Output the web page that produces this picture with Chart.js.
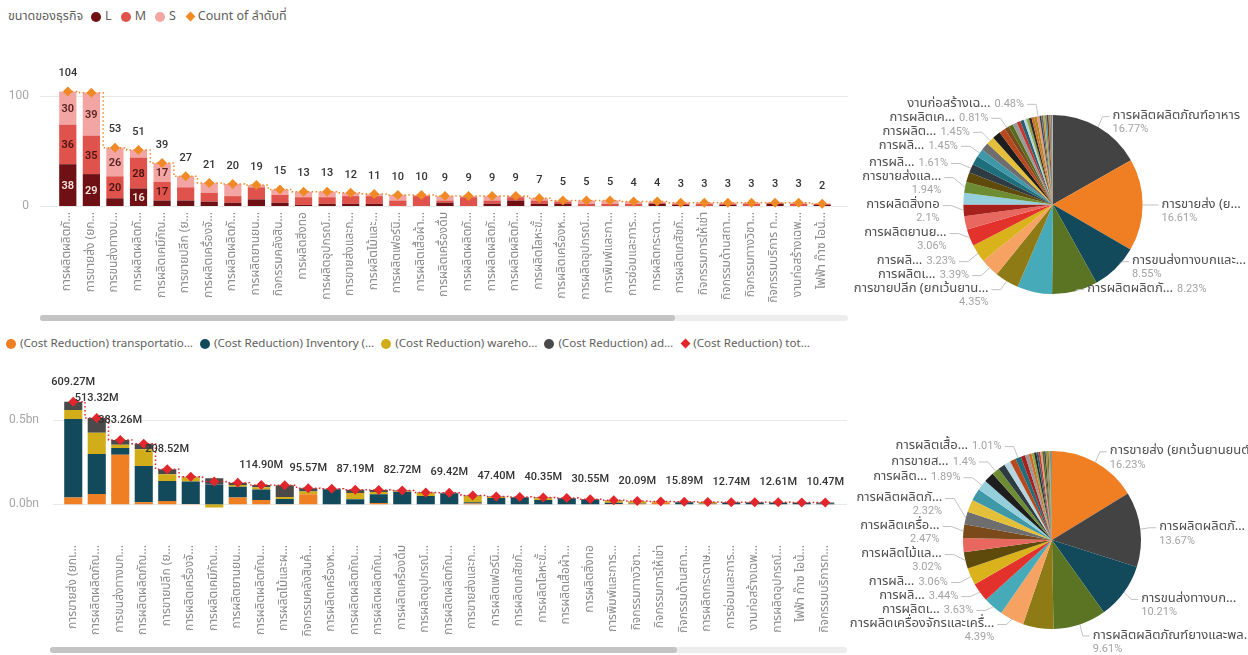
<!DOCTYPE html>
<html lang="th">
<head>
<meta charset="utf-8">
<title>ขนาดของธุรกิจ / Cost Reduction</title>
<script src="https://cdn.jsdelivr.net/npm/chart.js@4.4.1/dist/chart.umd.min.js"></script>
<style>
  html, body { margin: 0; padding: 0; background: #fff; }
  body { width: 1248px; height: 655px; position: relative; overflow: hidden;
         font-family: 'Segoe UI', 'Noto Sans Thai', Tahoma, Loma, Garuda, 'Open Sans', sans-serif; }
  canvas, .legend, .scroll { position: absolute; }
  .legend { display: flex; align-items: center; font-size: 12.5px; color: #605e5c; white-space: nowrap; }
  .legend .ttl { margin-right: 8px; }
  .legend .item { display: flex; align-items: center; margin-right: 9px; }
  .legend .dot { width: 10px; height: 10px; border-radius: 50%; margin-right: 4px; }
  .legend .dia { width: 7px; height: 7px; transform: rotate(45deg); margin: 0 4px 0 2px; }
  #costLegend { font-size: 11.6px; }
  #costLegend .item { margin-right: 7px; }
  .scroll { height: 6px; border-radius: 3px; background: #ededed; }
  .scroll div { height: 100%; border-radius: 3px; background: #c4c4c4; }
</style>
</head>
<body>
<div class="legend" id="sizeLegend" style="left:8px; top:7px"><span class="ttl">ขนาดของธุรกิจ</span></div>
<canvas id="sizeBar" width="850" height="290" style="left:0; top:40px"></canvas>
<div class="scroll" style="left:40px; top:315px; width:808px"><div style="width:635px"></div></div>
<canvas id="sizePie" width="410" height="290" style="left:838px; top:40px"></canvas>

<div class="legend" id="costLegend" style="left:6px; top:335px"></div>
<canvas id="costBar" width="850" height="295" style="left:0; top:360px"></canvas>
<div class="scroll" style="left:50px; top:647px; width:797px"><div style="width:627px"></div></div>
<canvas id="costPie" width="410" height="295" style="left:838px; top:360px"></canvas>

<script>
// ---- count of firms by industry, split by business size ----
const sizeCats = [
  "การผลิตผลิตภั…", "การขายส่ง (ยก…", "การขนส่งทางบ…", "การผลิตผลิตภั…", "การผลิตเคมีภัณ…",
  "การขายปลีก (ย…", "การผลิตเครื่องจั…", "การผลิตผลิตภั…", "การผลิตยานยน…", "กิจกรรมคลังสิน…",
  "การผลิตสิ่งทอ", "การผลิตอุปกรณ์…", "การขายส่งและก…", "การผลิตไม้และ…", "การผลิตเฟอร์นิ…",
  "การผลิตเสื้อผ้า…", "การผลิตเครื่องดื่ม", "การผลิตผลิตภั…", "การผลิตผลิตภั…", "การผลิตผลิตภั…",
  "การผลิตโลหะขั้…", "การผลิตเครื่องห…", "การผลิตอุปกรณ์…", "การพิมพ์และกา…", "การซ่อมและการ…",
  "การผลิตกระดา…", "การผลิตเภสัชภั…", "กิจกรรมการให้เช่า", "กิจกรรมด้านสถา…", "กิจกรรมทางวิชา…",
  "กิจกรรมบริการ ท…", "งานก่อสร้างเฉพ…", "ไฟฟ้า ก๊าซ ไอน้…"
];
const sizeL = [38, 29, 7, 16, 5, 5, 4, 3, 6, 3, 1, 2, 2, 2, 0, 0, 3, 0, 2, 5, 2, 2, 0, 0, 0, 2, 1, 0, 1, 0, 2, 0, 1];
const sizeM = [36, 35, 20, 28, 17, 12, 8, 6, 11, 7, 7, 6, 7, 7, 5, 9, 2, 8, 3, 3, 3, 2, 2, 2, 2, 1, 1, 2, 1, 2, 1, 2, 1];
const sizeS = [30, 39, 26, 7, 17, 10, 9, 11, 2, 5, 5, 5, 3, 2, 5, 1, 4, 1, 4, 1, 2, 1, 3, 3, 2, 1, 1, 1, 1, 1, 0, 1, 0];
const sizeCount = [104, 103, 53, 51, 39, 27, 21, 20, 19, 15, 13, 13, 12, 11, 10, 10, 9, 9, 9, 9, 7, 5, 5, 5, 4, 4, 3, 3, 3, 3, 3, 3, 2];
const sizeOther = [2, 2, 2, 2, 1, 1, 1, 1, 1];   // industries past the scroll window
const sizeTicks = [0, 100];

// ---- cost reduction by industry (million baht) ----
const costCats = [
  "การขายส่ง (ยกเ…", "การผลิตผลิตภัณ…", "การขนส่งทางบก…", "การผลิตผลิตภัณ…", "การขายปลีก (ย…",
  "การผลิตเครื่องจั…", "การผลิตเคมีภัณ…", "การผลิตยานยน…", "การผลิตผลิตภัณ…", "การผลิตไม้และผ…",
  "กิจกรรมคลังสินค้…", "การผลิตเครื่องห…", "การผลิตผลิตภัณ…", "การผลิตผลิตภัณ…", "การผลิตเครื่องดื่ม",
  "การผลิตอุปกรณ์…", "การผลิตผลิตภัณ…", "การขายส่งและก…", "การผลิตเฟอร์นิ…", "การผลิตเภสัชภั…",
  "การผลิตโลหะขั้…", "การผลิตเสื้อผ้า…", "การผลิตสิ่งทอ", "การพิมพ์และการ…", "กิจกรรมทางวิชา…",
  "กิจกรรมการให้เช่า", "กิจกรรมด้านสถา…", "การผลิตกระดาษ…", "การซ่อมและการ…", "งานก่อสร้างเฉพ…",
  "การผลิตอุปกรณ์…", "ไฟฟ้า ก๊าซ ไอน้…", "กิจกรรมบริการท…"
];
// position of each cost category in sizeCats (keeps pie colours per industry)
const costCatIndex = [1, 0, 2, 3, 5, 6, 4, 8, 7, 13, 9, 21, 17, 18, 16, 11, 19, 12, 14, 26, 20, 15, 10, 23, 29, 27, 28, 25, 24, 31, 22, 32, 30];
const costTransport = [40, 62, 295, 12, 20, 2, 0, 40, 26, 2, 60, 0, 1, 8, 0, 0, 0, 5, 0, 0, 0, 0, 0, 2, 4, 10, 0, 3, 0, 0, 0, 0, 1];
const costInventory = [468, 237, 40, 216, 119, 134, 118, 65, 63, 30, 0, 90, 30, 52, 75, 50, 66, 8, 38, 40, 26, 33, 26, 8, 2, 0, 12, 3, 10, 10, 9, 8, 6];
const costWarehouse = [53, 126, 20, 100, 40, 24, -19, 10, 12, 12, 16, 0, 36, 14, 4, 17, 0, 37, 6, 0, 10, 0, 0, 12, 12, 5, 2, 8, 0, 0, 2, 0, 1.47];
const costAdmin = [48.27, 88.32, 28.26, 32.8, 29.52, 4.8, 37.3, 14.1, 13.9, 69.4, 19.57, 2.7, 20.19, 11, 3.72, 4, 3.42, 2.6, 3.4, 4, 4.35, 4.9, 4.55, 3, 2.09, 2, 1.89, 0, 2.74, 2.7, 1.61, 3, 2];
const costTotal = [609.27, 513.32, 383.26, 360.8, 208.52, 164.8, 136.3, 129.1, 114.9, 113.4, 95.57, 92.7, 87.19, 85, 82.72, 71, 69.42, 52.6, 47.4, 44, 40.35, 37.9, 30.55, 25, 20.09, 17, 15.89, 14, 12.74, 12.7, 12.61, 11, 10.47];
const costOther = [9.8, 8.2, 6.1, 4.9, 3.43];
const costTicks = [0, 500];

// pie label texts (slice index -> shown name)
const sizePieIdx = [0, 1, 2, 3, 5, 6, 7, 8, 10, 12, 14, 16, 18, 21, 31];
const sizePieText = ["การผลิตผลิตภัณฑ์อาหาร", "การขายส่ง (ย…", "การขนส่งทางบกและ…", "การผลิตผลิตภั…", "การขายปลีก (ยกเว้นยาน…",
  "การผลิตเ…", "การผลิ…", "การผลิตยานย…", "การผลิตสิ่งทอ", "การขายส่งแล…", "การผลิ…", "การผลิ…", "การผลิต…", "การผลิตเค…", "งานก่อสร้างเฉ…"];
const costPieIdx = [0, 1, 2, 3, 5, 6, 7, 8, 9, 11, 12, 15, 17, 21];
const costPieText = ["การขายส่ง (ยกเว้นยานยนต์แ…", "การผลิตผลิตภั…", "การขนส่งทางบก…", "การผลิตผลิตภัณฑ์ยางและพล…",
  "การผลิตเครื่องจักรและเครื่…", "การผลิตเ…", "การผลิ…", "การผลิ…", "การผลิตไม้แล…", "การผลิตเครื่อ…", "การผลิตผลิตภั…",
  "การผลิต…", "การขายส…", "การผลิตเสื้อ…"];

const sliceColors = ["#434343", "#F07E22", "#124A5C", "#5B7423", "#47AAB9", "#8F7B15", "#F5A262", "#D9B21C",
  "#E2322B", "#E8675E", "#A6211C", "#95CFDB", "#6E8D32", "#5E4B0B", "#2E3B42", "#1F6E7C", "#3E98A8",
  "#6E6E6E", "#E4C03A", "#1E1E1E", "#B9481E", "#7A4A1A", "#566D20", "#9A9A9A", "#C4362E", "#2B5F6E",
  "#B5D6DF", "#8FA84A", "#2B2B2B", "#D36B2A", "#A58C1E", "#E89A80", "#3A4A52"];
const otherColors = ["#6B6B6B", "#C9A227", "#4E9AA8", "#8B2E24", "#7A8F3A", "#555555", "#D97B3A", "#2F6C7A", "#B0B0B0"];

const THAI = "'Segoe UI', 'Noto Sans Thai', Tahoma, Loma, Garuda, 'Open Sans', sans-serif";
const NUM = "Roboto, 'Open Sans', sans-serif";

Chart.defaults.font.family = THAI;
Chart.defaults.animation = false;
Chart.defaults.events = [];
Chart.defaults.plugins.legend.display = false;
Chart.defaults.plugins.tooltip.enabled = false;

// horizontal gridlines that run past the plot edges
function axisGrid(from, to) {
  return {
    id: 'axisGrid',
    beforeDatasetsDraw(chart) {
      const y = chart.scales.y, ctx = chart.ctx;
      ctx.save();
      ctx.strokeStyle = '#e8e8e8';
      ctx.lineWidth = 1;
      y.ticks.forEach(t => {
        const py = Math.round(y.getPixelForValue(t.value)) + 0.5;
        ctx.beginPath(); ctx.moveTo(from, py); ctx.lineTo(to, py); ctx.stroke();
      });
      ctx.restore();
    }
  };
}

// value labels: above line points, and inside bar segments tall enough
function valueLabels(cfg) {
  return {
    id: 'valueLabels',
    afterDatasetsDraw(chart) {
      const ctx = chart.ctx;
      ctx.save();
      ctx.textAlign = 'center';
      ctx.textBaseline = 'middle';
      chart.data.datasets.forEach((ds, di) => {
        const meta = chart.getDatasetMeta(di);
        if (ds.type === 'line') {
          ctx.font = '500 11px ' + NUM;
          ctx.fillStyle = '#333';
          meta.data.forEach((pt, i) => {
            if (cfg.show && !cfg.show.includes(i)) return;
            if (cfg.hide && cfg.hide.includes(i)) return;
            ctx.fillText(cfg.format(ds.data[i]), pt.x, pt.y - cfg.lift);
          });
        } else if (cfg.segmentText) {
          ctx.font = '600 11px ' + NUM;
          ctx.fillStyle = cfg.segmentText[di];
          meta.data.forEach((bar, i) => {
            if (Math.abs(bar.base - bar.y) < 15) return;
            ctx.fillText(String(ds.data[i]), bar.x, (bar.y + bar.base) / 2 + 1);
          });
        }
      });
      ctx.restore();
    }
  };
}

const fmtPct = v => parseFloat(v.toFixed(2)) + '%';

// outside pie labels with leader lines, stacked per side
function pieLabels(cfg) {
  return {
    id: 'pieLabels',
    afterDatasetsDraw(chart) {
      const ctx = chart.ctx;
      const values = chart.data.datasets[0].data;
      const total = values.reduce((a, b) => a + b, 0);
      const arcs = chart.getDatasetMeta(0).data;
      const items = cfg.idx.map((i, k) => {
        const p = arcs[i].getProps(['x', 'y', 'startAngle', 'endAngle', 'outerRadius']);
        const a = (p.startAngle + p.endAngle) / 2;
        const c = Math.cos(a), s = Math.sin(a);
        const reach = c >= 0 ? 9 : 12;
        return {
          name: cfg.text[k], pct: fmtPct(values[i] / total * 100), two: cfg.stacked.includes(i),
          right: c >= 0,
          ax: p.x + c * p.outerRadius, ay: p.y + s * p.outerRadius,
          ex: p.x + c * (p.outerRadius + reach), y: p.y + s * (p.outerRadius + 12),
          maxY: p.y + p.outerRadius * 0.95
        };
      });
      const gap = it => it.two ? 28 : 14;
      [true, false].forEach(side => {
        const list = items.filter(it => it.right === side).sort((a, b) => a.y - b.y);
        let pushed = false;
        for (let k = 1; k < list.length; k++) {
          const need = list[k - 1].y + gap(list[k - 1]);
          if (list[k].y < need) { list[k].y = need; pushed = true; }
        }
        if (!pushed) return;
        for (let k = list.length - 1; k >= 0; k--) {
          const limit = k === list.length - 1 ? list[k].maxY : list[k + 1].y - gap(list[k]);
          list[k].y = Math.min(list[k].y, limit);
        }
      });
      ctx.save();
      ctx.textBaseline = 'middle';
      items.forEach(it => {
        const dir = it.right ? 1 : -1;
        const run = it.right ? 7 : 9;
        ctx.strokeStyle = '#c2c2c2';
        ctx.lineWidth = 1;
        ctx.beginPath();
        ctx.moveTo(it.ax, it.ay);
        ctx.lineTo(it.ex, it.y);
        ctx.lineTo(it.ex + dir * run, it.y);
        ctx.stroke();
        const tx = it.ex + dir * (run + 3);
        ctx.textAlign = it.right ? 'left' : 'right';
        const nameFont = '13px ' + THAI, pctFont = '11px ' + NUM;
        if (it.two) {
          ctx.font = nameFont; ctx.fillStyle = '#4f4f4f';
          ctx.fillText(it.name, tx, it.y);
          ctx.font = pctFont; ctx.fillStyle = '#a3a3a3';
          ctx.fillText(it.pct, tx, it.y + 13);
        } else {
          ctx.font = pctFont;
          const pw = ctx.measureText(it.pct).width;
          ctx.font = nameFont;
          const nw = ctx.measureText(it.name).width;
          const x0 = it.right ? tx : tx - nw - 4 - pw;
          ctx.textAlign = 'left';
          ctx.fillStyle = '#4f4f4f';
          ctx.fillText(it.name, x0, it.y);
          ctx.font = pctFont; ctx.fillStyle = '#a3a3a3';
          ctx.fillText(it.pct, x0 + nw + 4, it.y);
        }
      });
      ctx.restore();
    }
  };
}

function htmlLegend(el, datasets) {
  datasets.forEach(ds => {
    const item = document.createElement('span');
    item.className = 'item';
    const mark = document.createElement('i');
    mark.className = ds.type === 'line' ? 'dia' : 'dot';
    mark.style.background = ds.type === 'line' ? ds.pointBackgroundColor : ds.backgroundColor;
    item.appendChild(mark);
    item.appendChild(document.createTextNode(ds.label));
    el.appendChild(item);
  });
}

function xAxis(height, pad) {
  return {
    stacked: true,
    grid: { display: false, drawTicks: false },
    border: { display: false },
    ticks: { autoSkip: false, maxRotation: 90, minRotation: 90, padding: pad, color: '#8c8c8c', font: { size: 12 } },
    afterFit: s => { s.height = height; }
  };
}

function yAxis(min, max, ticks, width, pad, fmt) {
  return {
    stacked: true, min, max,
    grid: { display: false, drawTicks: false },
    border: { display: false },
    afterBuildTicks: s => { s.ticks = ticks.map(v => ({ value: v })); },
    afterFit: s => { s.width = width; },
    ticks: { padding: pad, color: '#a6a6a6', font: { family: NUM, size: 12 }, callback: fmt }
  };
}

// ---- size / count chart ----
const sizeSets = [
  { type: 'bar', label: 'L', data: sizeL, backgroundColor: '#6E1014', stack: 'size', order: 1 },
  { type: 'bar', label: 'M', data: sizeM, backgroundColor: '#E0534C', stack: 'size', order: 1 },
  { type: 'bar', label: 'S', data: sizeS, backgroundColor: '#F2A5A3', stack: 'size', order: 1 },
  { type: 'line', label: 'Count of ลำดับที่', data: sizeCount, stack: 'count', order: 0,
    borderColor: '#F08A24', borderWidth: 1.5, borderDash: [1.5, 2.5], stepped: 'middle',
    pointStyle: 'rectRot', pointRadius: 5, pointBackgroundColor: '#F08A24', pointBorderWidth: 0, clip: false }
];
htmlLegend(document.getElementById('sizeLegend'), sizeSets);

new Chart(document.getElementById('sizeBar'), {
  data: { labels: sizeCats, datasets: sizeSets },
  options: {
    responsive: false,
    layout: { padding: { top: 45, right: 16, bottom: 0, left: 0 } },
    datasets: { bar: { barPercentage: 0.73, categoryPercentage: 1, borderWidth: 0 } },
    scales: { x: xAxis(124, 6), y: yAxis(0, 110, sizeTicks, 56, 27, v => v) }
  },
  plugins: [axisGrid(40, 848), valueLabels({
    lift: 18, hide: [1], format: v => String(v),
    segmentText: ['#f6e3dc', '#4a1512', '#5a2220']
  })]
});

// ---- cost reduction chart ----
const costSets = [
  { type: 'bar', label: '(Cost Reduction) transportatio…', data: costTransport, backgroundColor: '#F07E22', stack: 'cost', order: 1 },
  { type: 'bar', label: '(Cost Reduction) Inventory (…', data: costInventory, backgroundColor: '#124A5C', stack: 'cost', order: 1 },
  { type: 'bar', label: '(Cost Reduction) wareho…', data: costWarehouse, backgroundColor: '#D2AD1A', stack: 'cost', order: 1 },
  { type: 'bar', label: '(Cost Reduction) ad…', data: costAdmin, backgroundColor: '#4A4A4A', stack: 'cost', order: 1 },
  { type: 'line', label: '(Cost Reduction) tot…', data: costTotal, stack: 'total', order: 0,
    borderColor: '#E2262B', borderWidth: 1.5, borderDash: [1.5, 2.5], stepped: 'middle',
    pointStyle: 'rectRot', pointRadius: 5, pointBackgroundColor: '#E2262B', pointBorderWidth: 0, clip: false }
];
htmlLegend(document.getElementById('costLegend'), costSets);

new Chart(document.getElementById('costBar'), {
  data: { labels: costCats, datasets: costSets },
  options: {
    responsive: false,
    layout: { padding: { top: 35, right: 13, bottom: 0, left: 0 } },
    datasets: { bar: { barPercentage: 0.77, categoryPercentage: 1, borderWidth: 0 } },
    scales: { x: xAxis(117, 7), y: yAxis(-200, 650, costTicks, 61.5, 22.5, v => (v / 1000).toFixed(1) + 'bn') }
  },
  plugins: [axisGrid(53, 847), valueLabels({
    lift: 20, show: [0, 1, 2, 4, 8, 10, 12, 14, 16, 18, 20, 22, 24, 26, 28, 30, 32],
    format: v => v.toFixed(2) + 'M'
  })]
});

// ---- pies ----
new Chart(document.getElementById('sizePie'), {
  type: 'pie',
  data: {
    labels: sizeCats.concat(sizeOther.map(() => '')),
    datasets: [{ data: sizeCount.concat(sizeOther), backgroundColor: sliceColors.concat(otherColors), borderWidth: 0, hoverOffset: 0 }]
  },
  options: { responsive: false, layout: { padding: { left: 125.4, right: 105.4, top: 74.9, bottom: 35.9 } } },
  plugins: [pieLabels({ idx: sizePieIdx, text: sizePieText, stacked: [0, 1, 2, 5, 8, 10, 12] })]
});

new Chart(document.getElementById('costPie'), {
  type: 'pie',
  data: {
    labels: costCats.concat(costOther.map(() => '')),
    datasets: [{
      data: costTotal.concat(costOther),
      backgroundColor: costCatIndex.map(i => sliceColors[i]).concat(otherColors.slice(0, costOther.length)),
      borderWidth: 0, hoverOffset: 0
    }]
  },
  options: { responsive: false, layout: { padding: { left: 125, right: 107, top: 91, bottom: 26 } } },
  plugins: [pieLabels({ idx: costPieIdx, text: costPieText, stacked: [0, 1, 2, 3, 5, 9, 11, 12] })]
});
</script>
</body>
</html>
